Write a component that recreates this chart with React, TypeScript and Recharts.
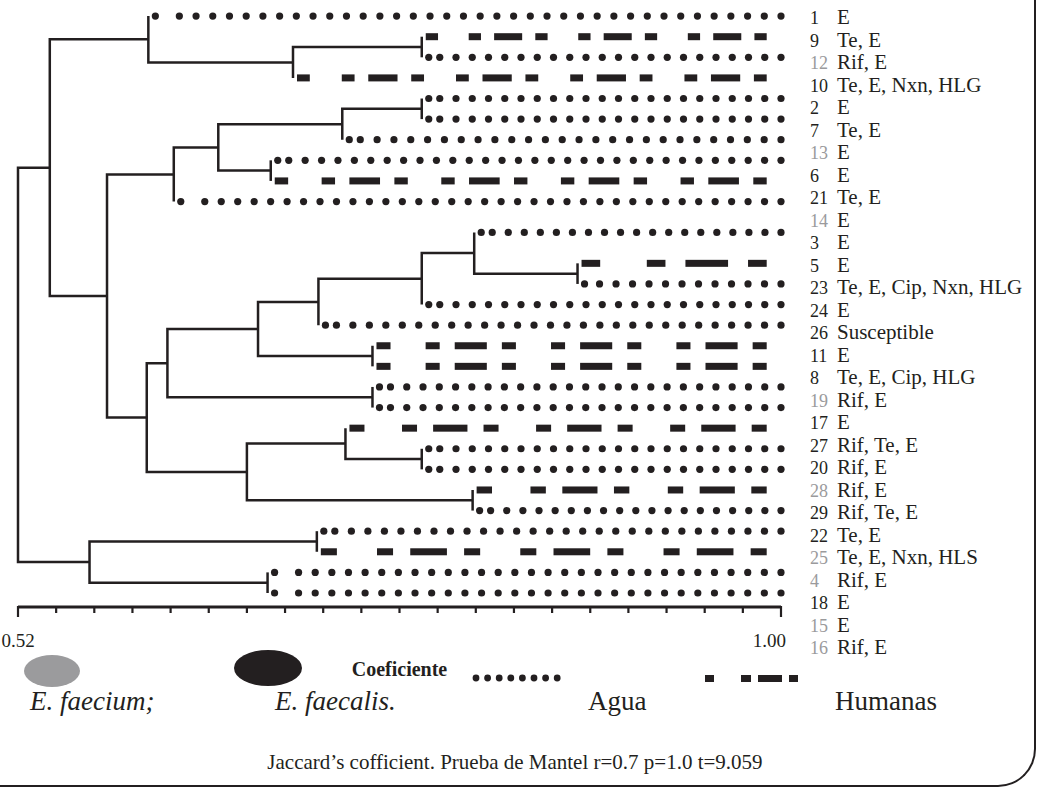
import React from 'react';
import { ComposedChart, Scatter, XAxis, YAxis, Legend } from 'recharts';

const INK = '#231f20';
const GREY = '#9a9a9c';
const SERIF = '"Liberation Serif", "DejaVu Serif", serif';

// dendrogram leaves, top to bottom: row position and where the isolate came from
const leafRow = [0, 1, 2, 3, 4, 5, 6, 7, 8, 9, 10.5, 12, 13, 14, 15, 16, 17, 18, 19, 20, 21, 22, 23, 24, 25, 26, 27, 28];
const leafSource = [
  'agua', 'humanas', 'agua', 'humanas', 'agua', 'agua', 'agua', 'agua', 'humanas', 'agua',
  'agua', 'humanas', 'agua', 'agua', 'agua', 'humanas', 'humanas', 'agua', 'agua', 'humanas',
  'agua', 'agua', 'humanas', 'agua', 'agua', 'humanas', 'agua', 'agua',
];

// clusters: Jaccard similarity where the two branches join
const nodeId = ['A', 'B', 'C', 'D', 'E', 'F', 'G', 'H', 'I', 'J', 'K', 'L', 'M', 'N', 'O', 'P', 'Q', 'R', 'S', 'T', 'U', 'V', 'W', 'X', 'Y', 'Z', 'root'];
const nodeSim = [0.774, 0.693, 0.602, 0.774, 0.724, 0.679, 0.646, 0.618, 0.872, 0.807, 0.774, 0.709, 0.743, 0.671, 0.743, 0.614, 0.774, 0.726, 0.806, 0.664, 0.601, 0.576, 0.54, 0.708, 0.677, 0.565, 0.52];
const nodeKids = [
  ['r1', 'r2'], ['A', 'r3'], ['r0', 'B'], ['r4', 'r5'], ['D', 'r6'], ['r7', 'r8'], ['E', 'F'], ['G', 'r9'],
  ['r11', 'r12'], ['r10', 'I'], ['J', 'r13'], ['K', 'r14'], ['r15', 'r16'], ['L', 'M'], ['r17', 'r18'], ['N', 'O'],
  ['r20', 'r21'], ['r19', 'Q'], ['r22', 'r23'], ['R', 'S'], ['P', 'T'], ['H', 'U'], ['C', 'V'],
  ['r24', 'r25'], ['r26', 'r27'], ['X', 'Y'], ['W', 'Z'],
];
const dotEnd = 1.0;
const dashEnd = 0.991;

// isolate list on the right
const isolateNo = [1, 9, 12, 10, 2, 7, 13, 6, 21, 14, 3, 5, 23, 24, 26, 11, 8, 19, 17, 27, 20, 28, 29, 22, 25, 4, 18, 15, 16];
const isolateRes = [
  'E', 'Te, E', 'Rif, E', 'Te, E, Nxn, HLG', 'E', 'Te, E', 'E', 'E', 'Te, E', 'E', 'E', 'E',
  'Te, E, Cip, Nxn, HLG', 'E', 'Susceptible', 'E', 'Te, E, Cip, HLG', 'Rif, E', 'E', 'Rif, Te, E',
  'Rif, E', 'Rif, E', 'Rif, Te, E', 'Te, E', 'Te, E, Nxn, HLS', 'Rif, E', 'E', 'E', 'Rif, E',
];
const faecium = [12, 13, 14, 19, 28, 25, 4, 15, 16];

const xTicks = [0.52, 0.544, 0.568, 0.592, 0.616, 0.64, 0.664, 0.688, 0.712, 0.736, 0.76, 0.784, 0.808, 0.832, 0.856, 0.88, 0.904, 0.928, 0.952, 0.976, 1.0];
const xTickLabels = ['0.52', '1.00'];

// how each dotted row begins (drawing habit of the original figure)
const leadStyle: Record<number, string> = { 0: 'gap', 9: 'gap', 26: 'gap', 27: 'gap', 12: 'plain' };

// --- build the tree geometry from the arrays above
const pos: Record<string, { x: number; y: number }> = {};
leafRow.forEach((r, i) => { pos['r' + i] = { x: 0, y: r }; });
const parentOf: Record<string, number> = {};
nodeId.forEach((id, i) => {
  const [a, b] = nodeKids[i];
  parentOf[a] = i;
  parentOf[b] = i;
  pos[id] = { x: nodeSim[i], y: (pos[a].y + pos[b].y) / 2 };
});
leafRow.forEach((_, i) => { pos['r' + i].x = nodeSim[parentOf['r' + i]]; });

const branches = nodeId.map((id, i) => {
  const [a, b] = nodeKids[i].map((k) => pos[k]);
  return [
    { x: a.x, y: a.y },
    { x: nodeSim[i], y: a.y },
    { x: nodeSim[i], y: b.y },
    { x: b.x, y: b.y },
  ];
});

const leaves = leafRow.map((r, i) => [
  { x: pos['r' + i].x, y: r },
  { x: leafSource[i] === 'agua' ? dotEnd : dashEnd, y: r },
]);

const noMark = () => <g />;

const DotRow = ({ points, lead }: any) => {
  const [a, b] = points;
  const first = a.x + 7;
  const start = first + (lead === 'gap' ? 24 : lead === 'plain' ? 15 : 11);
  const n = Math.max(1, Math.round((b.x - start) / 16.5));
  const step = (b.x - start) / n;
  const xs = [first];
  for (let i = 0; i <= n; i++) xs.push(start + i * step);
  return (
    <g>
      {xs.map((x, i) => <circle key={i} cx={x} cy={a.y} r={3.6} fill={INK} />)}
    </g>
  );
};

const S0 = 14, g0 = 15, L0 = 32, G0 = 35;
const P0 = S0 + g0 + L0 + g0 + S0 + G0;

const DashRow = ({ points }: any) => {
  const [a, b] = points;
  const x0 = a.x + 4;
  const D = b.x - x0;
  const n = Math.max(1, Math.round((D - S0) / P0));
  const k = D / (S0 + n * P0);
  const bars: number[][] = [[x0, S0 * k]];
  for (let i = 0; i < n; i++) {
    const g = x0 + k * (S0 + G0) + i * k * P0;
    bars.push([g, S0 * k], [g + k * (S0 + g0), L0 * k], [g + k * (S0 + g0 + L0 + g0), S0 * k]);
  }
  return (
    <g>
      {bars.map(([x, w], i) => <rect key={i} x={x} y={a.y - 3.5} width={w} height={7} fill={INK} />)}
    </g>
  );
};

const XTick = ({ x, y, payload }: any) => {
  const v = payload.value;
  const isFirst = v === xTicks[0];
  const isLast = v === xTicks[xTicks.length - 1];
  return (
    <g>
      <line x1={x} x2={x} y1={y - 1} y2={y + (isFirst || isLast ? 10 : 6)} stroke={INK} strokeWidth={2.2} />
      {(isFirst || isLast) && (
        <text
          x={isFirst ? x : x + 5}
          y={y + 40}
          textAnchor={isFirst ? 'middle' : 'end'}
          fontFamily={SERIF}
          fontSize={19}
          fill={INK}
        >
          {isFirst ? xTickLabels[0] : xTickLabels[1]}
        </text>
      )}
    </g>
  );
};

const LabelTick = ({ x, y, payload }: any) => {
  const i = payload.value;
  const no = isolateNo[i];
  return (
    <text x={x} y={y} dy="0.35em" fontFamily={SERIF} fontSize={21} fill={INK}>
      <tspan fontSize={18} fill={faecium.includes(no) ? GREY : INK}>{no}</tspan>
      <tspan x={x + 27}>{isolateRes[i]}</tspan>
    </text>
  );
};

const LegendArt = () => (
  <svg width={1040} height={148} style={{ display: 'block' }}>
    <ellipse cx={52} cy={31} rx={28} ry={16} fill="#9b9b9d" />
    <ellipse cx={268} cy={28} rx={34} ry={18} fill={INK} />
    <text x={30} y={70} fontFamily={SERIF} fontStyle="italic" fontSize={27} fill={INK}>E. faecium;</text>
    <text x={275} y={70} fontFamily={SERIF} fontStyle="italic" fontSize={27} fill={INK}>E. faecalis.</text>
    {[0, 1, 2, 3, 4, 5, 6, 7].map((i) => (
      <circle key={i} cx={476 + i * 11.6} cy={38} r={3.4} fill={INK} />
    ))}
    <text x={588} y={70} fontFamily={SERIF} fontSize={27} fill={INK}>Agua</text>
    <rect x={705} y={35} width={9} height={7} fill={INK} />
    <rect x={741} y={35} width={10} height={7} fill={INK} />
    <rect x={758} y={35} width={24} height={7} fill={INK} />
    <rect x={789} y={35} width={9} height={7} fill={INK} />
    <text x={835} y={70} fontFamily={SERIF} fontSize={27} fill={INK}>Humanas</text>
    <text x={515} y={129} textAnchor="middle" fontFamily={SERIF} fontSize={21} fill={INK}>
      Jaccard’s cofficient. Prueba de Mantel r=0.7 p=1.0 t=9.059
    </text>
  </svg>
);

export default function App() {
  return (
    <div style={{ position: 'relative', width: 1040, height: 788, overflow: 'hidden', background: '#fff' }}>
      <style>{'body{margin:0}'}</style>
      <div
        style={{
          position: 'absolute', left: -6, top: -6, width: 1036 + 6 - 2.5, height: 787 + 6 - 2.5,
          border: `2.5px solid ${INK}`, borderBottomRightRadius: 38, boxSizing: 'content-box',
          borderLeft: 'none', borderTop: 'none', pointerEvents: 'none',
        }}
      />
      <ComposedChart width={1040} height={788} margin={{ top: 6, right: 0, bottom: 106, left: 18 }}>
        <XAxis
          type="number"
          dataKey="x"
          domain={[0.52, 1]}
          ticks={xTicks}
          interval={0}
          tick={<XTick />}
          tickLine={false}
          tickSize={0}
          tickMargin={0}
          axisLine={{ stroke: INK, strokeWidth: 3 }}
          height={75}
          label={{
            value: 'Coeficiente', position: 'insideTop', offset: 55,
            fill: INK, fontSize: 20, fontWeight: 'bold', fontFamily: SERIF,
          }}
        />
        <YAxis yAxisId="rows" type="number" dataKey="y" domain={[-0.49, 28.68]} reversed hide />
        <YAxis
          yAxisId="labels"
          orientation="right"
          type="number"
          domain={[-0.489, 26.22]}
          allowDataOverflow
          reversed
          ticks={isolateNo.map((_, i) => i)}
          interval={0}
          width={259}
          axisLine={false}
          tickLine={false}
          tickSize={0}
          tickMargin={29}
          tick={<LabelTick />}
        />
        {branches.map((pts, i) => (
          <Scatter
            key={'b' + i}
            yAxisId="rows"
            data={pts}
            shape={noMark}
            line={{ stroke: INK, strokeWidth: 2.5 }}
            lineType="joint"
            legendType="none"
            isAnimationActive={false}
          />
        ))}
        {leaves.map((pts, i) => (
          <Scatter
            key={'l' + i}
            yAxisId="rows"
            data={pts}
            shape={noMark}
            line={(p: any) =>
              leafSource[i] === 'agua'
                ? <DotRow points={p.points} lead={leadStyle[i] || 'pair'} />
                : <DashRow points={p.points} />
            }
            lineType="joint"
            legendType="none"
            isAnimationActive={false}
          />
        ))}
        <Legend
          verticalAlign="middle"
          align="center"
          layout="horizontal"
          wrapperStyle={{ position: 'absolute', top: 640, left: 0, width: 1040, height: 148 }}
          content={() => <LegendArt />}
        />
      </ComposedChart>
    </div>
  );
}
